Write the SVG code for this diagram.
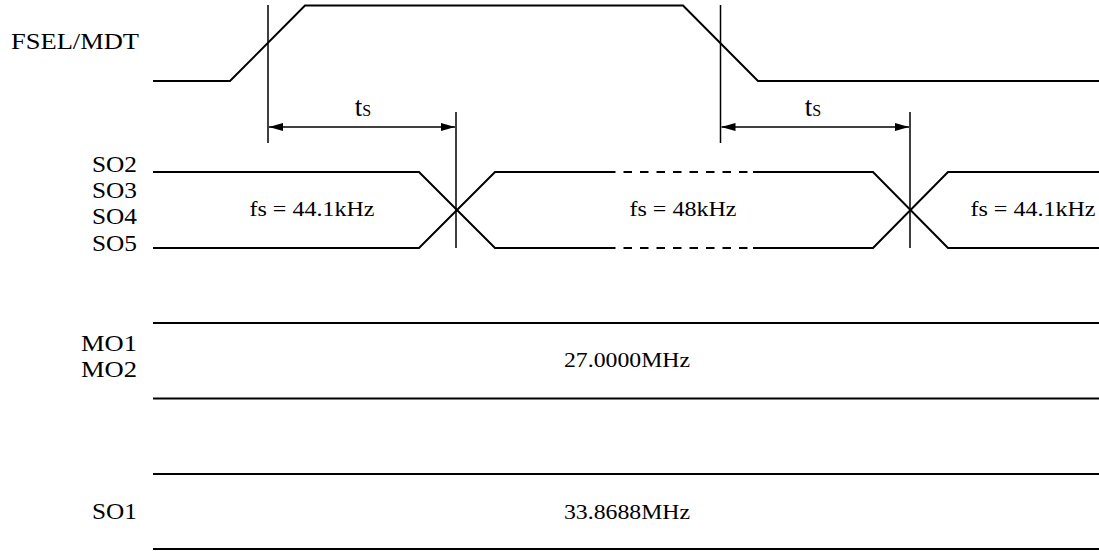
<svg xmlns="http://www.w3.org/2000/svg" width="1099" height="551" viewBox="0 0 1099 551">
<style>
.sig{fill:none;stroke:#000;stroke-width:2;stroke-linejoin:miter}
.ref{fill:none;stroke:#000;stroke-width:1.5}
.dash{fill:none;stroke:#000;stroke-width:2;stroke-dasharray:8.5 8}
.lbl{font-family:"Liberation Serif","Times New Roman",serif;fill:#000}
</style>
<defs>
<marker id="ah" viewBox="0 0 14 8" refX="14" refY="4" markerWidth="14" markerHeight="8" markerUnits="userSpaceOnUse" orient="auto-start-reverse">
<path d="M0,0 L14,4 L0,8 Z" fill="#000"/>
</marker>
</defs>
<rect width="1099" height="551" fill="#fff"/>
<g id="fsel">
<path class="sig" d="M153,81 H230 L305,5.5 H683 L758,81 H1099"/>
<text class="lbl" x="139" y="49" font-size="24" text-anchor="end" textLength="128" lengthAdjust="spacingAndGlyphs">FSEL/MDT</text>
</g>
<g id="so">
<path class="sig" d="M153,172 H419 L495,248 H607"/>
<path class="sig" d="M153,248 H419 L495,172 H607"/>
<path class="dash" d="M607,172 H753"/>
<path class="dash" d="M607,248 H753"/>
<path class="sig" d="M753,172 H873 L948,248 H1099"/>
<path class="sig" d="M753,248 H873 L948,172 H1099"/>
<text class="lbl" x="137" y="172" font-size="23" text-anchor="end" textLength="45" lengthAdjust="spacingAndGlyphs">SO2</text>
<text class="lbl" x="137" y="198" font-size="23" text-anchor="end" textLength="45" lengthAdjust="spacingAndGlyphs">SO3</text>
<text class="lbl" x="137" y="224" font-size="23" text-anchor="end" textLength="45" lengthAdjust="spacingAndGlyphs">SO4</text>
<text class="lbl" x="137" y="251" font-size="23" text-anchor="end" textLength="45" lengthAdjust="spacingAndGlyphs">SO5</text>
<text class="lbl" x="312" y="216" font-size="22" text-anchor="middle" textLength="125" lengthAdjust="spacingAndGlyphs">fs = 44.1kHz</text>
<text class="lbl" x="683" y="216" font-size="22" text-anchor="middle" textLength="107" lengthAdjust="spacingAndGlyphs">fs = 48kHz</text>
<text class="lbl" x="1033" y="216" font-size="22" text-anchor="middle" textLength="125" lengthAdjust="spacingAndGlyphs">fs = 44.1kHz</text>
</g>
<g id="mo">
<path class="sig" d="M153,323 H1099 M153,398.5 H1099"/>
<text class="lbl" x="137" y="351" font-size="23" text-anchor="end" textLength="56" lengthAdjust="spacingAndGlyphs">MO1</text>
<text class="lbl" x="137" y="377" font-size="23" text-anchor="end" textLength="56" lengthAdjust="spacingAndGlyphs">MO2</text>
<text class="lbl" x="627" y="367" font-size="21" text-anchor="middle" textLength="126" lengthAdjust="spacingAndGlyphs">27.0000MHz</text>
</g>
<g id="so1">
<path class="sig" d="M153,474 H1099 M153,549 H1099"/>
<text class="lbl" x="137" y="519" font-size="23" text-anchor="end" textLength="45" lengthAdjust="spacingAndGlyphs">SO1</text>
<text class="lbl" x="627" y="519" font-size="21" text-anchor="middle" textLength="126" lengthAdjust="spacingAndGlyphs">33.8688MHz</text>
</g>
<g id="connectors">
<path class="ref" d="M268,5 V143 M720.5,5 V143 M456,112 V248 M910,112 V248"/>
<path class="ref" d="M269,127 H455" marker-start="url(#ah)" marker-end="url(#ah)"/>
<path class="ref" d="M721.5,127 H909" marker-start="url(#ah)" marker-end="url(#ah)"/>
<text class="lbl" x="363" y="116" font-size="27" text-anchor="middle">t<tspan font-size="16">S</tspan></text>
<text class="lbl" x="813" y="116" font-size="27" text-anchor="middle">t<tspan font-size="16">S</tspan></text>
</g>
</svg>
